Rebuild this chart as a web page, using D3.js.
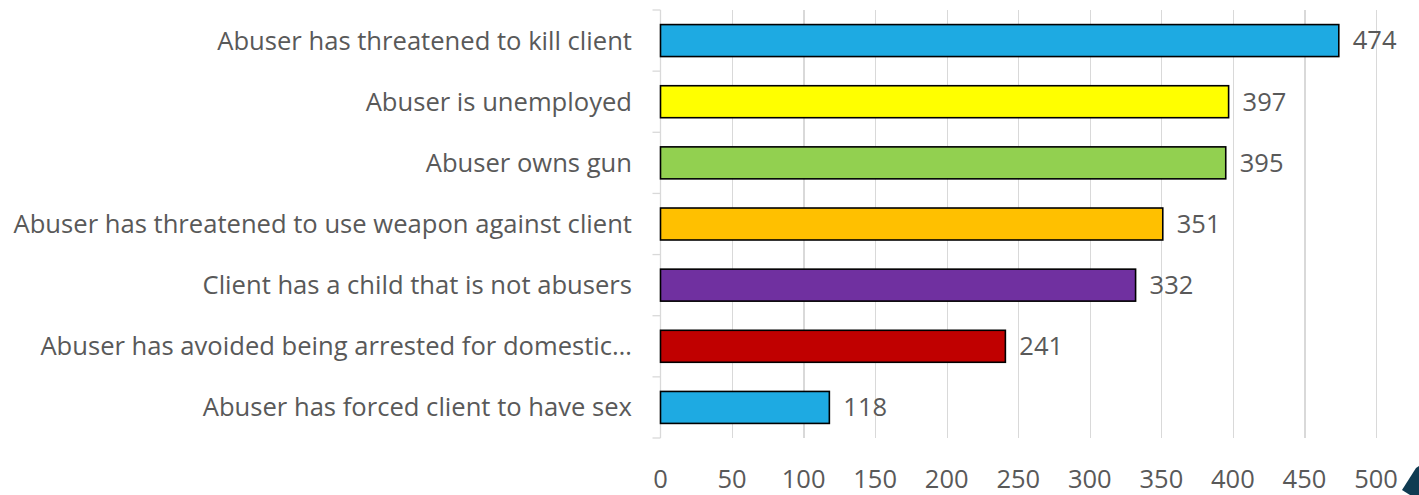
<!DOCTYPE html>
<html>
<head>
<meta charset="utf-8">
<script src="https://cdn.jsdelivr.net/npm/d3@7/dist/d3.min.js"></script>
<style>
body { margin: 0; background: #fff; }
.grid line { stroke: #d9d9d9; stroke-width: 1.3; shape-rendering: crispEdges; }
.grid path { stroke-width: 0; }
text { font-family: "Open Sans", sans-serif; fill: #595959; }
</style>
</head>
<body>
<div id="chart"></div>
<script>
var categories = [
  "Abuser has threatened to kill client",
  "Abuser is unemployed",
  "Abuser owns gun",
  "Abuser has threatened to use weapon against client",
  "Client has a child that is not abusers",
  "Abuser has avoided being arrested for domestic\u2026",
  "Abuser has forced client to have sex"
];
var values = [474, 397, 395, 351, 332, 241, 118];
var colors = ["#1eaae2", "#ffff00", "#92d050", "#ffc000", "#7030a0", "#c00000", "#1eaae2"];
var xTicks = [0, 50, 100, 150, 200, 250, 300, 350, 400, 450, 500];

var width = 1419;
var height = 495;
var margin = ({top: 10, right: 43, bottom: 57, left: 660.5});

var svg = d3.select("#chart")
  .append("svg")
    .attr("width", width)
    .attr("height", height);

var x_scale = d3.scaleLinear()
    .domain([0, 500])
    .range([margin.left, width - margin.right]);

var y_scale = d3.scaleBand()
    .domain(categories)
    .range([margin.top, height - margin.bottom])
    .paddingInner(0.477)
    .paddingOuter(0.2385);

// x-grid
svg.append("g")
    .attr("class", "grid")
    .attr("transform", `translate(0,${height - margin.bottom})`)
    .call(
        d3.axisBottom(x_scale)
            .tickValues(xTicks.slice(1))
            .tickSize(-(height - margin.top - margin.bottom))
            .tickFormat("")
    );

// x tick labels
svg.append("g")
    .selectAll("text")
    .data(xTicks)
    .enter().append("text")
    .attr("x", d => x_scale(d))
    .attr("y", 488)
    .attr("text-anchor", "middle")
    .style("font-size", "25.5px")
    .text(d => d);

// y axis line with category separator ticks
var y_axis = svg.append("g");
y_axis.append("line")
    .attr("x1", margin.left).attr("x2", margin.left)
    .attr("y1", margin.top).attr("y2", height - margin.bottom)
    .attr("stroke", "#d9d9d9").attr("stroke-width", 1.3);

var step = y_scale.step();
var sep = d3.range(categories.length + 1).map(i => margin.top + i * step);
y_axis.selectAll("line.sep")
    .data(sep).enter().append("line")
    .attr("class", "sep")
    .attr("x1", margin.left - 8).attr("x2", margin.left)
    .attr("y1", d => d).attr("y2", d => d)
    .attr("stroke", "#d9d9d9").attr("stroke-width", 1.3);

// category labels
svg.append("g")
    .selectAll("text")
    .data(categories)
    .enter().append("text")
    .attr("x", 632)
    .attr("y", d => y_scale(d) + y_scale.bandwidth() / 2)
    .attr("dy", "0.35em")
    .attr("text-anchor", "end")
    .style("font-size", "25.6px")
    .text(d => d);

// bars
svg.selectAll(".bar")
    .data(values)
    .enter().append("rect")
    .attr("class", "bar")
    .attr("x", x_scale(0))
    .attr("y", (d, i) => y_scale(categories[i]))
    .attr("width", d => x_scale(d) - x_scale(0))
    .attr("height", y_scale.bandwidth())
    .attr("fill", (d, i) => colors[i])
    .attr("stroke", "#000")
    .attr("stroke-width", 1.6);

// value labels
svg.selectAll(".val")
    .data(values)
    .enter().append("text")
    .attr("class", "val")
    .attr("x", d => x_scale(d) + 14)
    .attr("y", (d, i) => y_scale(categories[i]) + y_scale.bandwidth() / 2)
    .attr("dy", "0.35em")
    .style("font-size", "25.5px")
    .text(d => d);

// partial logo in corner
svg.append("path")
    .attr("d", "M1402,490 L1416,468 L1419,466 L1419,495 L1410,495 Z")
    .attr("fill", "#0f3b52");
</script>
</body>
</html>
